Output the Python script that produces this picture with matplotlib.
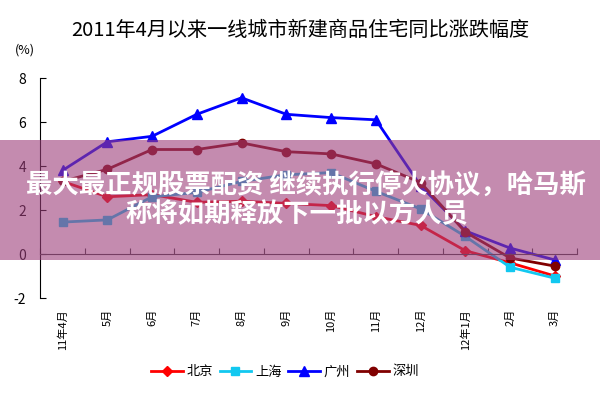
import numpy as np
import matplotlib
matplotlib.use("Agg")
from matplotlib import pyplot as plt
from matplotlib.patches import Rectangle
import matplotlib.transforms as mtransforms

plt.rcParams['font.family'] = ['Noto Sans CJK SC', 'DejaVu Sans']
plt.rcParams['axes.unicode_minus'] = False

# data
months = ['11年4月', '5月', '6月', '7月', '8月', '9月', '10月', '11月', '12月', '12年1月', '2月', '3月']
beijing = [3.3, 2.6, 2.7, 2.35, 2.4, 2.3, 2.2, 1.7, 1.3, 0.15, -0.4, -1.0]
shanghai = [1.45, 1.55, 2.6, 2.8, 3.3, 3.6, 3.7, 2.85, 2.05, 0.8, -0.6, -1.1]
guangzhou = [3.8, 5.1, 5.35, 6.35, 7.1, 6.35, 6.2, 6.1, 3.1, 1.05, 0.27, -0.27]
shenzhen = [3.3, 3.85, 4.75, 4.75, 5.05, 4.65, 4.55, 4.1, 3.25, 1.0, -0.18, -0.55]

title = '2011年4月以来一线城市新建商品住宅同比涨跌幅度'
banner1 = '最大最正规股票配资 继续执行停火协议，哈马斯'
banner2 = '称将如期释放下一批以方人员'

fig = plt.figure(figsize=(6, 4), dpi=100)
ax = fig.add_axes([0.067, 0.255, 0.895, 0.55])

x = np.arange(len(months))
ax.plot(x, beijing, color='#ff0000', marker='D', markersize=5, lw=2, label='北京')
ax.plot(x, shanghai, color='#12c8f0', marker='s', markersize=6, lw=2, label='上海')
ax.plot(x, guangzhou, color='#0000ff', marker='^', markersize=7, lw=2, label='广州')
ax.plot(x, shenzhen, color='#800000', marker='o', markersize=6, lw=2, label='深圳')

ax.set_xlim(-0.5, len(months) - 0.5)
ax.set_ylim(-2, 8)
ax.set_yticks([-2, 0, 2, 4, 6, 8])
ax.spines['top'].set_visible(False)
ax.spines['right'].set_visible(False)
ax.spines['bottom'].set_position(('data', 0))
ax.spines['bottom'].set_color('#404040')
ax.set_xticks(np.arange(-0.5, len(months), 1))
ax.set_xticklabels([])
ax.tick_params(axis='x', direction='in', length=4, color='#404040')
ax.tick_params(axis='y', direction='in', length=4, labelsize=10, pad=10)

# month labels at the bottom of the plot area
trans = mtransforms.blended_transform_factory(ax.transData, ax.transAxes)
for xi, m in zip(x, months):
    ax.text(xi, -0.05, m, transform=trans, rotation=90, ha='center', va='top', fontsize=8)

fig.text(0.042, 0.875, '(%)', fontsize=9, ha='center', va='center')
fig.text(0.5, 0.925, title, fontsize=14.5, ha='center', va='center')

fig.legend(loc='center', bbox_to_anchor=(0.475, 0.07), ncol=4, frameon=False,
           fontsize=9.5, handlelength=2.4, columnspacing=0.5, handletextpad=0.3)

# overlay banner
fig.patches.append(Rectangle((0, 0.35), 1, 0.30, transform=fig.transFigure,
                             facecolor=(157/255, 62/255, 123/255), alpha=0.6,
                             edgecolor='none', zorder=5))
fig.text(0.51, 0.5375, banner1, color='white', fontsize=19, fontweight='bold',
         ha='center', va='center', zorder=6)
fig.text(0.495, 0.4625, banner2, color='white', fontsize=19, fontweight='bold',
         ha='center', va='center', zorder=6)

fig.savefig('out.png', dpi=100)
